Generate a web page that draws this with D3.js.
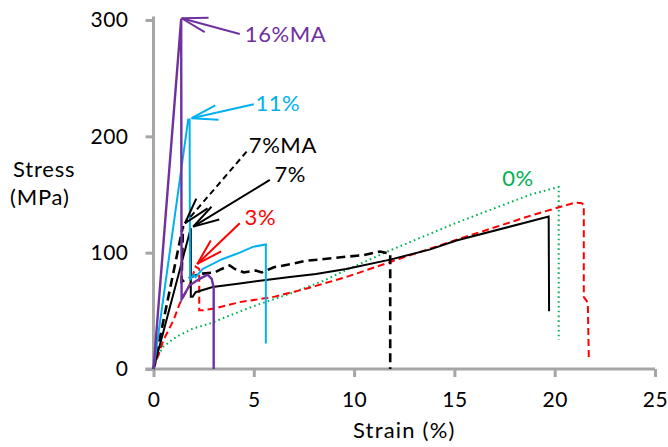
<!DOCTYPE html>
<html>
<head>
<meta charset="utf-8">
<script src="https://cdn.jsdelivr.net/npm/d3@7"></script>
<style>
  body { margin: 0; background: #fff; }
  text { font-family: Lato, "Open Sans", sans-serif; }
  .axis path, .axis line { stroke: #a6a6a6; stroke-width: 3; }
  .axis text { font-size: 21px; fill: #000; letter-spacing: 0.5px; }
</style>
</head>
<body>
<div id="chart"></div>
<script>
// strain (%) / stress (MPa)
const strain16MA = [0, 1.38, 1.40, 1.8, 2.3, 2.7, 2.9, 3.0, 3.0];
const stress16MA = [0, 301, 60, 72, 77.5, 81, 77.5, 70, 0];

const strain11 = [0, 1.73, 1.80, 1.82, 2.0, 2.1, 2.45, 3.45, 4.3, 4.95, 5.6, 5.6];
const stress11 = [0, 214.5, 214.5, 77, 81, 79, 86, 94.6, 100, 105, 107, 22];

const strain7MA = [0, 1.47, 1.40, 2.0, 2.45, 3.05, 3.4, 3.8, 4.05, 4.5, 5.1, 5.4, 6.0, 6.8, 7.6, 8.5, 9.6, 10.45, 11.3, 11.8, 11.8];
const stress7MA = [0, 123, 75, 80, 82, 83, 86, 89, 86, 83, 84.6, 83, 87.5, 90, 93, 94.5, 96.5, 97.8, 101, 99, 0];

const strain7 = [0, 1.86, 1.86, 1.95, 2.1, 2.95, 4.3, 5.6, 6.8, 8.1, 9.6, 11.8, 13.8, 15.1, 19.7, 19.72];
const stress7 = [0, 121, 62, 62, 66, 70.4, 73.5, 76.6, 79, 81.7, 86, 94, 102.8, 110.5, 131, 49.6];

const strain3 = [0, 0.5, 1.0, 1.3, 1.8, 2.1, 2.28, 2.28, 2.48, 3.05, 4.3, 6.0, 7.6, 9.6, 11.8, 15, 18.8, 21.0, 21.35, 21.45, 21.45, 21.65, 21.7];
const stress3 = [0, 25, 42, 56, 72, 88, 86, 50.5, 50.5, 52, 57.5, 62, 69, 79, 92, 110.5, 131.8, 143, 142.5, 141, 62, 57, 10];

const strain0 = [0, 0.05, 0.47, 1.13, 1.97, 2.8, 3.8, 5.1, 6.8, 8.5, 9.6, 11.8, 15, 18.8, 20.2, 20.2];
const stress0 = [0, 5, 19, 27.6, 34.8, 39, 46, 54.7, 64.7, 76, 85, 102, 125, 150, 156.5, 25];

const xTicks = [0, 5, 10, 15, 20, 25];
const yTicks = [0, 100, 200, 300];

// label text, label anchor, arrow tail, arrow tip (data units)
const labels = ["16%MA", "11%", "7%MA", "7%", "3%", "0%"];
const labelPos = [[4.55, 281], [5.08, 221.5], [4.75, 185.5], [6.03, 160.5], [4.54, 124], [17.38, 157]];
const arrowTail = [[4.3, 288], [5.0, 227.5], [4.64, 186.8], [5.8, 162.5], [4.3, 125.3], null];
const arrowTip = [[1.40, 301.5], [1.90, 215.6], [1.57, 125.3], [1.98, 122.4], [2.18, 90.3], null];

const colours = ["#7030a0", "#00b0f0", "#000", "#000", "#ff0000", "#00b050"];

const width = 668;
const height = 447;

const svg = d3.select("#chart")
              .append("svg")
              .attr("width", width)
              .attr("height", height);

const x = d3.scaleLinear().domain([0, 25]).range([153.5, 655]);
const y = d3.scaleLinear().domain([0, 300]).range([369, 20]);

svg.append("g")
   .attr("class", "axis")
   .attr("transform", `translate(0, ${y(0)})`)
   .call(d3.axisBottom(x).tickValues(xTicks).tickSize(8).tickSizeOuter(0).tickPadding(15))
   .call(g => g.select(".domain").attr("d", `M${x(0) - 8},0H${x(25)}`));

svg.append("g")
   .attr("class", "axis")
   .attr("transform", `translate(${x(0)}, 0)`)
   .call(d3.axisLeft(y).tickValues(yTicks).tickSize(8).tickSizeOuter(0).tickPadding(17))
   .call(g => g.select(".domain").attr("d", `M0,${y(0)}V${y(303)}`));

svg.append("text").attr("x", 13).attr("y", 177).attr("font-size", 22)
   .attr("letter-spacing", 0.8).text("Stress");
svg.append("text").attr("x", 10).attr("y", 205).attr("font-size", 22)
   .attr("letter-spacing", 0.8).text("(MPa)");
svg.append("text").attr("x", x(12.5)).attr("y", 438).attr("font-size", 22)
   .attr("letter-spacing", 1.2).attr("text-anchor", "middle").text("Strain (%)");

const line = d3.line().x(d => x(d[0])).y(d => y(d[1]));

const series = [
  { xs: strain0, ys: stress0, colour: "#00b050", width: 2, dash: "1.6,3.2" },
  { xs: strain3, ys: stress3, colour: "#ff0000", width: 2, dash: "7,4" },
  { xs: strain7, ys: stress7, colour: "#000", width: 2, dash: null },
  { xs: strain7MA, ys: stress7MA, colour: "#000", width: 2.6, dash: "9,5" },
  { xs: strain11, ys: stress11, colour: "#00b0f0", width: 2, dash: null },
  { xs: strain16MA, ys: stress16MA, colour: "#7030a0", width: 2.4, dash: null }
];

series.forEach(s => {
  svg.append("path")
     .attr("d", line(s.xs.map((v, i) => [v, s.ys[i]])))
     .attr("fill", "none")
     .attr("stroke", s.colour)
     .attr("stroke-width", s.width)
     .attr("stroke-dasharray", s.dash);
});

// annotation arrows with open heads
labels.forEach((label, i) => {
  if(arrowTail[i]){
    const tx = x(arrowTail[i][0]), ty = y(arrowTail[i][1]);
    const px = x(arrowTip[i][0]), py = y(arrowTip[i][1]);
    svg.append("line")
       .attr("x1", tx).attr("y1", ty).attr("x2", px).attr("y2", py)
       .attr("stroke", colours[i])
       .attr("stroke-width", 2)
       .attr("stroke-dasharray", label === "7%MA" ? "6,4" : null);
    const ang = Math.atan2(ty - py, tx - px);
    [-0.28, 0.28].forEach(a => {
      svg.append("line")
         .attr("x1", px).attr("y1", py)
         .attr("x2", px + 27 * Math.cos(ang + a))
         .attr("y2", py + 27 * Math.sin(ang + a))
         .attr("stroke", colours[i])
         .attr("stroke-width", 2);
    });
  }
  svg.append("text")
     .attr("x", x(labelPos[i][0]))
     .attr("y", y(labelPos[i][1]))
     .attr("font-size", 22)
     .attr("letter-spacing", 0.6)
     .attr("fill", colours[i])
     .text(label);
});
</script>
</body>
</html>
